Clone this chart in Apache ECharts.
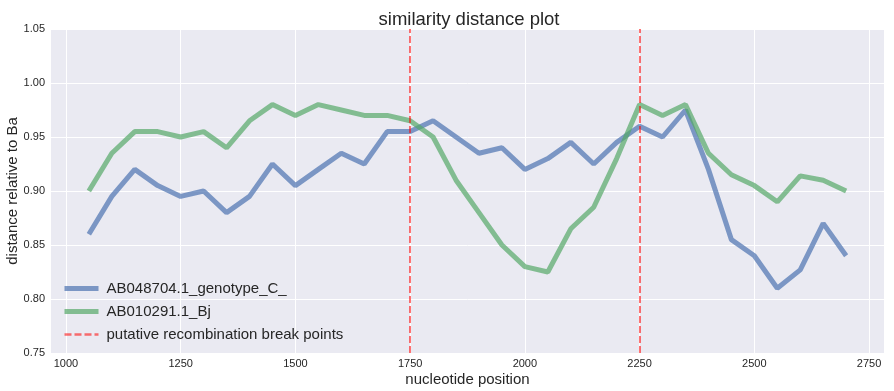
<!DOCTYPE html>
<html>
<head>
<meta charset="utf-8">
<script src="https://cdn.jsdelivr.net/npm/echarts@6/dist/echarts.min.js"></script>
<style>
html,body{margin:0;padding:0;background:#fff;}
#chart{width:894px;height:391px;}
</style>
</head>
<body>
<div id="chart"></div>
<script>
const positions = [1050,1100,1150,1200,1250,1300,1350,1400,1450,1500,1550,1600,1650,1700,1750,1800,1850,1900,1950,2000,2050,2100,2150,2200,2250,2300,2350,2400,2450,2500,2550,2600,2650,2700];
const genotypeC = [0.86,0.895,0.92,0.905,0.895,0.90,0.88,0.895,0.925,0.905,0.92,0.935,0.925,0.955,0.955,0.965,0.95,0.935,0.94,0.92,0.93,0.945,0.925,0.945,0.96,0.95,0.975,0.92,0.855,0.84,0.81,0.827,0.87,0.84];
const bj = [0.90,0.935,0.955,0.955,0.95,0.955,0.94,0.965,0.98,0.97,0.98,0.975,0.97,0.97,0.965,0.95,0.91,0.88,0.85,0.83,0.825,0.865,0.885,0.93,0.98,0.97,0.98,0.935,0.915,0.905,0.89,0.914,0.91,0.90];
const breakPoints = [1750, 2250];
const xTicks = [1000,1250,1500,1750,2000,2250,2500,2750];
const seriesNames = ['AB048704.1_genotype_C_', 'AB010291.1_Bj', 'putative recombination break points'];

const font = '"Liberation Sans", Arial, sans-serif';
const txt = '#262626';
const chart = echarts.init(document.getElementById('chart'));
chart.setOption({
  animation: false,
  backgroundColor: '#ffffff',
  title: {
    text: 'similarity distance plot',
    left: 464, top: 5, textAlign: 'center',
    textStyle: {fontFamily: font, fontSize: 18.5, fontWeight: 'normal', color: txt}
  },
  grid: {
    left: 51, right: 10, top: 29, bottom: 38,
    outerBoundsMode: 'none', containLabel: false,
    show: true, backgroundColor: '#EAEAF2', borderWidth: 0
  },
  legend: {
    orient: 'vertical', left: 57, top: 276,
    itemWidth: 34, itemHeight: 14, itemGap: 8,
    itemStyle: {opacity: 0},
    data: [
      {name: seriesNames[0], lineStyle: {width: 5}},
      {name: seriesNames[1], lineStyle: {width: 5}},
      {name: seriesNames[2], lineStyle: {width: 2.5}}
    ],
    textStyle: {fontFamily: font, fontSize: 15, color: txt, padding: [0,0,0,3]}
  },
  xAxis: {
    type: 'value', min: 967.5, max: 2782.5,
    name: 'nucleotide position', nameLocation: 'middle', nameGap: 19,
    nameMoveOverlap: false,
    nameTextStyle: {fontFamily: font, fontSize: 15, color: txt},
    axisLine: {show: false},
    axisTick: {show: false, customValues: xTicks},
    axisLabel: {customValues: xTicks, fontFamily: font, fontSize: 11, color: txt, margin: 5,
      formatter: v => String(v)},
    splitLine: {show: true, lineStyle: {color: '#ffffff', width: 1}}
  },
  yAxis: {
    type: 'value', min: 0.75, max: 1.05, interval: 0.05,
    name: 'distance relative to Ba', nameLocation: 'middle', nameGap: 31,
    nameMoveOverlap: false,
    nameTextStyle: {fontFamily: font, fontSize: 15, color: txt},
    axisLine: {show: false}, axisTick: {show: false},
    axisLabel: {fontFamily: font, fontSize: 11, color: txt, margin: 6,
      formatter: v => v.toFixed(2)},
    splitLine: {show: true, lineStyle: {color: '#ffffff', width: 1}}
  },
  series: [
    {
      name: seriesNames[0], type: 'line', symbol: 'none',
      data: positions.map((p, i) => [p, genotypeC[i]]),
      color: '#4C72B0',
      lineStyle: {color: '#4C72B0', width: 5, opacity: 0.7}
    },
    {
      name: seriesNames[1], type: 'line', symbol: 'none',
      data: positions.map((p, i) => [p, bj[i]]),
      color: '#55A868',
      lineStyle: {color: '#55A868', width: 5, opacity: 0.7}
    },
    {
      name: seriesNames[2], type: 'line', symbol: 'none', data: [],
      color: '#FF0000',
      lineStyle: {color: '#FF0000', width: 2, type: [7, 3], opacity: 0.55},
      markLine: {
        symbol: 'none', silent: true, label: {show: false},
        lineStyle: {color: '#FF0000', width: 2, type: [7, 3], opacity: 0.55},
        data: breakPoints.map(b => ({xAxis: b}))
      }
    }
  ]
});
</script>
</body>
</html>
